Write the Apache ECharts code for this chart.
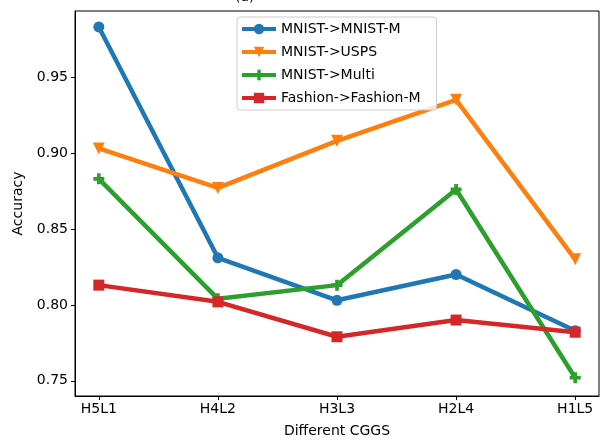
<!DOCTYPE html>
<html>
<head>
<meta charset="utf-8">
<script src="https://cdn.jsdelivr.net/npm/echarts@6/dist/echarts.min.js"></script>
<style>
  html, body { margin: 0; padding: 0; background: #fff; }
  #main { width: 600px; height: 443px; }
</style>
</head>
<body>
<div id="main"></div>
<script>
// 横轴类别
var categories = ['H5L1', 'H4L2', 'H3L3', 'H2L4', 'H1L5'];
// 各组准确率
var mnistM = [0.983, 0.831, 0.803, 0.820, 0.783];
var usps = [0.903, 0.877, 0.908, 0.935, 0.830];
var multi = [0.883, 0.804, 0.813, 0.876, 0.752];
var fashion = [0.813, 0.802, 0.779, 0.790, 0.782];
// 纵轴刻度
var yTicks = [0.75, 0.80, 0.85, 0.90, 0.95];

var font = 'DejaVu Sans';
var plusPath = 'path://M-1,-3h2v2h2v2h-2v2h-2v-2h-2v-2h2z';

function pts(arr) {
    return arr.map(function (v, i) { return [i, v]; });
}

function mkSeries(name, data, color, symbol, size, rotate) {
    return {
        name: name,
        type: 'line',
        data: pts(data),
        symbol: symbol,
        symbolSize: size,
        symbolRotate: rotate || 0,
        showSymbol: true,
        animation: false,
        lineStyle: { color: color, width: 4.5 },
        itemStyle: { color: color }
    };
}

var option = {
    backgroundColor: '#fff',
    title: {
        text: '(a)',
        left: 230,
        top: -15,
        textStyle: { fontFamily: font, fontSize: 14, fontWeight: 'normal', color: '#000' }
    },
    legend: {
        orient: 'vertical',
        left: 237,
        top: 17,
        padding: [5, 16, 5, 3],
        itemWidth: 34,
        itemHeight: 13,
        itemGap: 9,
        borderColor: '#ccc',
        borderWidth: 1,
        borderRadius: 3,
        backgroundColor: 'rgba(255,255,255,0.8)',
        lineStyle: { width: 4 },
        textStyle: { fontFamily: font, fontSize: 14, color: '#000' },
        data: ['MNIST->MNIST-M', 'MNIST->USPS', 'MNIST->Multi', 'Fashion->Fashion-M']
    },
    grid: {
        left: 75,
        right: 1,
        top: 11,
        bottom: 44,
        show: true,
        borderColor: '#000',
        borderWidth: 1
    },
    xAxis: {
        type: 'value',
        min: -0.2,
        max: 4.2,
        name: 'Different CGGS',
        nameLocation: 'middle',
        nameGap: 28,
        nameTextStyle: { fontFamily: font, fontSize: 14, color: '#000' },
        splitLine: { show: false },
        axisLine: { onZero: false, lineStyle: { color: '#000' } },
        axisTick: { customValues: [0, 1, 2, 3, 4], length: 4, lineStyle: { color: '#000' } },
        axisLabel: {
            customValues: [0, 1, 2, 3, 4],
            fontFamily: font, fontSize: 14, color: '#000', margin: 6,
            formatter: function (v) { return categories[Math.round(v)]; }
        }
    },
    yAxis: {
        type: 'value',
        min: 0.74,
        max: 0.9935,
        name: 'Accuracy',
        nameLocation: 'middle',
        nameGap: 50,
        nameTextStyle: { fontFamily: font, fontSize: 14, color: '#000' },
        splitLine: { show: false },
        axisLine: { show: true, onZero: false, lineStyle: { color: '#000' } },
        axisTick: { show: true, customValues: yTicks, length: 4, lineStyle: { color: '#000' } },
        axisLabel: {
            customValues: yTicks,
            fontFamily: font, fontSize: 14, color: '#000', margin: 7,
            formatter: function (v) { return v.toFixed(2); }
        }
    },
    series: [
        mkSeries('MNIST->MNIST-M', mnistM, '#1f77b4', 'circle', 11),
        mkSeries('MNIST->USPS', usps, '#ff7f0e', 'triangle', 12, 180),
        mkSeries('MNIST->Multi', multi, '#2ca02c', plusPath, 11),
        mkSeries('Fashion->Fashion-M', fashion, '#d62728', 'rect', 11)
    ]
};

var myChart = echarts.init(document.getElementById('main'));
myChart.setOption(option);
</script>
</body>
</html>
